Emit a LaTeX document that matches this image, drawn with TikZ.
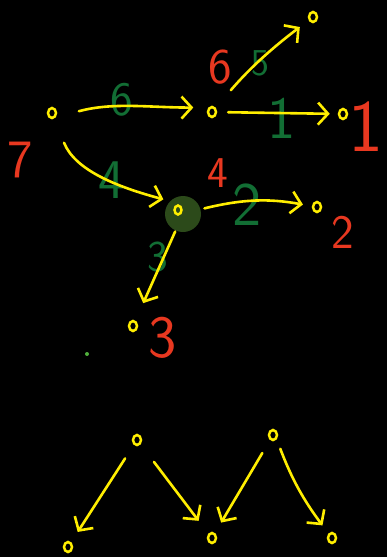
\documentclass[tikz,border=0pt]{standalone}
\usepackage{tikz}
\usetikzlibrary{arrows.meta, shapes.geometric}
\definecolor{colInk}{RGB}{255,238,0}
\definecolor{colWt}{RGB}{18,110,52}
\definecolor{colLab}{RGB}{232,56,32}
\definecolor{colHub}{RGB}{44,74,26}
\definecolor{colDot}{RGB}{80,175,60}

\begin{document}
\begin{tikzpicture}[
  x=1pt, y=1pt,
  vert/.style={ellipse, draw=colInk, line width=2.5pt, minimum width=8pt,
               minimum height=10pt, inner sep=0pt},
  hub/.style={circle, fill=colHub, minimum size=36pt, inner sep=0pt},
  wt/.style={text=colWt, font=\sffamily\fontsize{46}{46}\selectfont, inner sep=0pt},
  lab/.style={text=colLab, font=\sffamily\fontsize{46}{46}\selectfont, inner sep=0pt},
  narr/.style={draw=colInk, line width=2.6pt, line cap=round,
               -{Straight Barb[length=10pt,width=22pt]}},
]
\fill[black] (0,0) rectangle (387,-557);
\useasboundingbox (0,0) rectangle (387,-557);

% upper graph
\node[vert] (v7) at (52,-113) {};
\node[vert] (v6) at (212,-112) {};
\node[vert] (v1) at (343,-114) {};
\node[vert] (v5) at (313,-17) {};
\node[hub]  (v4) at (183,-214) {};
\node[vert, minimum width=7pt, minimum height=9pt] (v4in) at (178,-210) {};
\node[vert] (v2) at (317,-207) {};
\node[vert] (v3) at (133,-326) {};
\node[circle, fill=colDot, minimum size=4pt, inner sep=0pt] (dot) at (87,-354) {};

% red names
\node[lab, font=\sffamily\fontsize{54}{54}\selectfont] (l7) at (20,-160) {7};
\node[lab, font=\sffamily\fontsize{50}{50}\selectfont] (l6) at (220,-67) {6};
\node[lab, font=\sffamily\fontsize{74}{74}\selectfont] (l1) at (366,-127) {1};
\node[lab, font=\sffamily\fontsize{44}{44}\selectfont] (l4) at (218,-173) {4};
\node[lab, font=\sffamily\fontsize{48}{48}\selectfont] (l2) at (343,-232) {2};
\node[lab, font=\sffamily\fontsize{60}{60}\selectfont] (l3) at (163,-338) {3};

% green weights
\node[wt, font=\sffamily\fontsize{48}{48}\selectfont] (w6) at (122,-100) {6};
\node[wt, font=\sffamily\fontsize{38}{38}\selectfont] (w5) at (260,-63) {5};
\node[wt, font=\sffamily\fontsize{60}{60}\selectfont] (w1) at (282,-118) {1};
\node[wt, font=\sffamily\fontsize{56}{56}\selectfont] (w4) at (112,-180) {4};
\node[wt, font=\sffamily\fontsize{62}{62}\selectfont] (w2) at (247,-205) {2};
\node[wt, font=\sffamily\fontsize{44}{44}\selectfont] (w3) at (158,-257) {3};

% arrows
\draw[narr, shorten <=24pt, shorten >=15pt] (v7.south east) to[out=15,in=180] (v6.north west);
\draw[narr, shorten <=11pt, shorten >=8pt] (v6) -- (v1);
\draw[narr, shorten <=23pt, shorten >=11pt] (v6) to[bend left=6] (v5);
\draw[narr, shorten <=26pt, shorten >=7pt] (v7) to[out=-68,in=165] (v4.north west);
\draw[narr, shorten <=4pt, shorten >=9pt] (v4) to[bend left=12] (v2);
\draw[narr, shorten <=1pt, shorten >=19pt] (v4) -- (v3);

% lower trees
\node[vert] (p1) at (137,-440) {};
\node[vert] (p2) at (273,-435) {};
\node[vert] (c1) at (68,-547) {};
\node[vert] (c2) at (212,-538) {};
\node[vert] (c3) at (332,-538) {};

\draw[narr, shorten <=16pt, shorten >=12pt] (p1) -- (c1);
\draw[narr, shorten <=22pt, shorten >=16pt] (p1.south east) -- (c2.north west);
\draw[narr, shorten <=15pt, shorten >=12pt] (p2) -- (c2);
\draw[narr, shorten <=10pt, shorten >=10pt] (p2.south east) to[bend right=8] (c3);

\end{tikzpicture}
\end{document}
